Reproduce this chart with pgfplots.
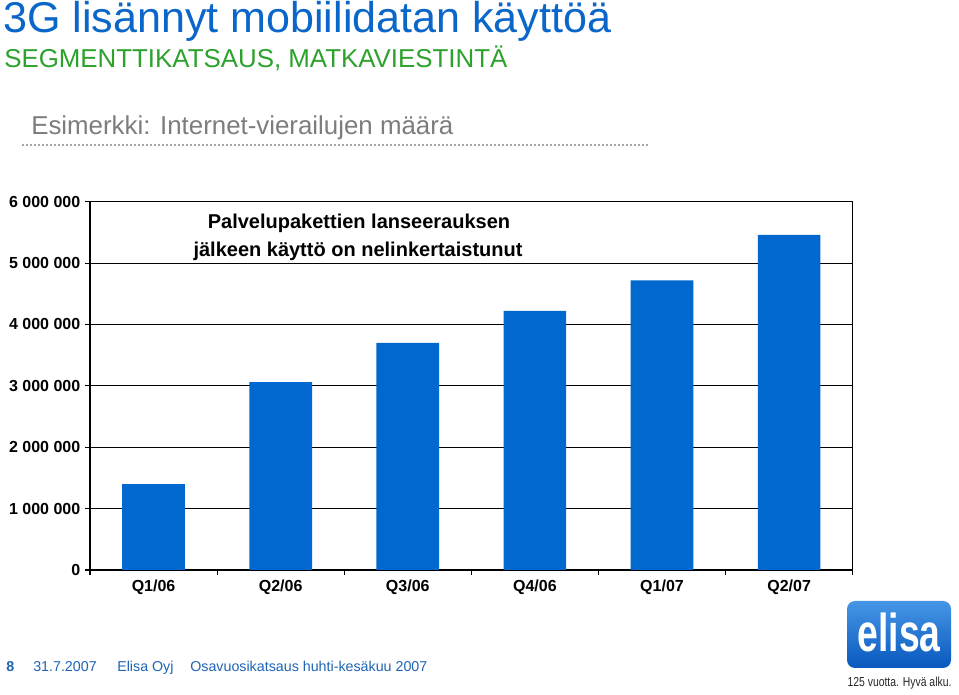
\documentclass[border=0pt]{standalone}
\usepackage{pgfplots}
\pgfplotsset{compat=1.18}
\usepackage{fontspec}
\setmainfont{Liberation Sans}
\definecolor{barblue}{RGB}{0,104,206}
\definecolor{titleblue}{RGB}{10,102,200}
\definecolor{subgreen}{RGB}{44,162,44}
\definecolor{greytxt}{RGB}{125,125,125}
\definecolor{footblue}{RGB}{30,100,180}
\definecolor{logotop}{RGB}{70,150,230}
\definecolor{logobot}{RGB}{8,88,190}
\begin{document}
\begin{tikzpicture}[x=0.75pt,y=0.75pt]
\path[fill=white] (0,0) rectangle (959,695);
% titles
\node[anchor=base west, inner sep=0, text=titleblue, font=\fontsize{32.3}{33}\selectfont] at (3,662) {3G lisännyt mobiilidatan käyttöä};
\node[anchor=base west, inner sep=0, text=subgreen, font=\fontsize{19.4}{20}\selectfont] at (4,627) {SEGMENTTIKATSAUS, MATKAVIESTINTÄ};
\node[anchor=base west, inner sep=0, text=greytxt, font=\fontsize{19.4}{20}\selectfont] at (31,560) {Esimerkki: Internet-vierailujen määrä};
\draw[greytxt!70, line width=1.5pt, dash pattern=on 1.5pt off 1.5pt] (22,550) -- (650,550);
% axis
\begin{axis}[
  at={(67.5pt,93.75pt)}, anchor=south west,
  scale only axis, width=572pt, height=276.2pt,
  xmin=-0.5, xmax=5.5, ymin=0, ymax=6000000,
  xtick={0,1,2,3,4,5},
  xticklabels={Q1/06,Q2/06,Q3/06,Q4/06,Q1/07,Q2/07},
  major x tick style={draw=none},
  extra x ticks={-0.5,0.5,1.5,2.5,3.5,4.5,5.5},
  extra x tick labels={},
  extra x tick style={grid=none, major x tick style={draw=black, line width=0.9pt}},
  ytick={0,1000000,2000000,3000000,4000000,5000000,6000000},
  yticklabels={0,1 000 000,2 000 000,3 000 000,4 000 000,5 000 000,6 000 000},
  scaled y ticks=false,
  ymajorgrids,
  major grid style={black, line width=0.9pt},
  axis line style={black, line width=0.9pt},
  tick align=outside, xtick pos=bottom, ytick pos=left,
  major tick length=3.75pt,
  tick style={black, line width=0.9pt},
  ticklabel style={font=\fontsize{12}{12}\selectfont\bfseries},
  /pgf/number format/assume math mode=true,
]
\addplot[ybar, bar width=47pt, fill=barblue, draw=none] coordinates {
  (0,1400000) (1,3060000) (2,3700000) (3,4220000) (4,4720000) (5,5460000)
};
\end{axis}
% annotation
\node[anchor=base, inner sep=0, font=\fontsize{15}{15}\selectfont\bfseries] at (359,466) {Palvelupakettien lanseerauksen};
\node[anchor=base, inner sep=0, font=\fontsize{15}{15}\selectfont\bfseries] at (358,438) {jälkeen käyttö on nelinkertaistunut};
% footer
\node[anchor=base west, inner sep=0, text=footblue, font=\fontsize{10.7}{11}\selectfont\bfseries] at (6,23) {8};
\node[anchor=base west, inner sep=0, text=footblue, font=\fontsize{10.7}{11}\selectfont] at (33,23) {31.7.2007};
\node[anchor=base west, inner sep=0, text=footblue, font=\fontsize{10.7}{11}\selectfont] at (117,23) {Elisa Oyj};
\node[anchor=base west, inner sep=0, text=footblue, font=\fontsize{10.7}{11}\selectfont] at (190,23) {Osavuosikatsaus huhti-kesäkuu 2007};
% logo
\shade[top color=logotop, bottom color=logobot, rounded corners=6pt] (847,27) rectangle (951,94);
\node[anchor=base, inner sep=0, text=white, xscale=0.7, font=\fontsize{40}{40}\selectfont\bfseries] at (899,43) {elisa};
\node[anchor=base, inner sep=0, text=black!85, xscale=0.8, font=\fontsize{9.75}{10}\selectfont] at (899.5,8) {125 vuotta. Hyvä alku.};
\end{tikzpicture}
\end{document}
